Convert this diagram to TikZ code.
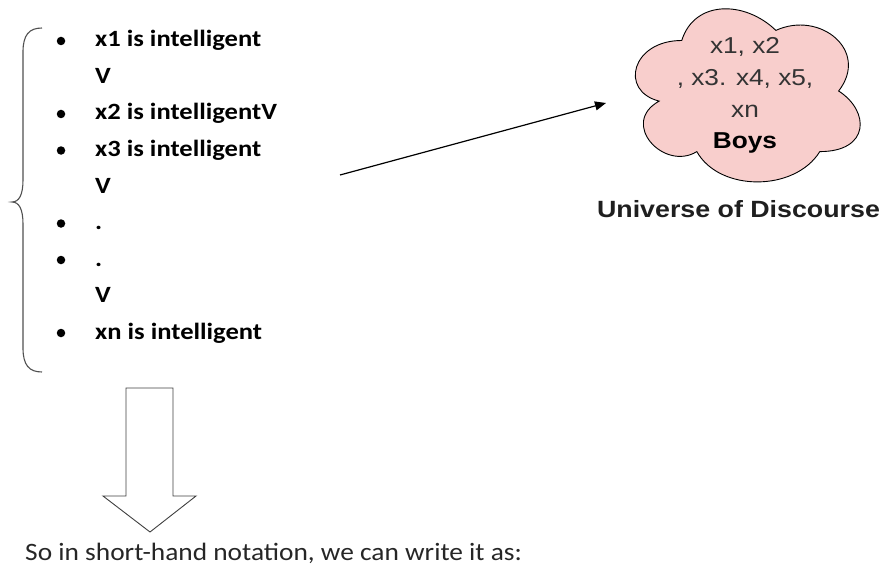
\documentclass[tikz,border=0pt]{standalone}
\usepackage{fontspec}
\setmainfont{Carlito}
\newfontfamily\arialfont{Liberation Sans}
\usetikzlibrary{arrows.meta}
\definecolor{cloudfill}{HTML}{F8CECC}
\definecolor{cloudline}{HTML}{B85450}
\definecolor{bracegray}{HTML}{505050}
\definecolor{cloudtext}{HTML}{333333}
\newcommand{\wide}[1]{\scalebox{1.14}[1]{#1}}
\tikzset{
  item/.style={anchor=base west, inner sep=0pt, font=\fontsize{23.3}{27}\selectfont\bfseries},
  dotmark/.style={circle, fill=black, inner sep=0pt, minimum size=8.5pt},
  cloudline/.style={anchor=base, inner sep=0pt, text=cloudtext, font=\arialfont\fontsize{23}{27}\selectfont},
}
\begin{document}
\begin{tikzpicture}[x=1pt, y=-1pt]
\useasboundingbox (0,0) rectangle (883,567);

% curly brace grouping the list
\draw[bracegray, line width=1.1pt]
  (42,28) .. controls (29,28) and (23,35) .. (23,52) -- (23,180)
  .. controls (23,195) and (19,202) .. (12,202)
  .. controls (19,202) and (23,209) .. (23,224) -- (23,348)
  .. controls (23,365) and (29,372) .. (42,372);

% list items
\foreach \b/\t/\m [count=\i] in {
  47/x1 is intelligent/1, 83.5/V/0, 120/x2 is intelligentV/1,
  156.5/x3 is intelligent/1, 193/V/0, 229.5/./1, 266/./1,
  302.5/V/0, 339/xn is intelligent/1}{
  \node[item] (t\i) at (95,\b) {\wide{\t}};
  \ifnum\m=1 \node[dotmark] (b\i) at (61,\b-6) {}; \fi
}

% universe of discourse cloud
\coordinate (cloud) at (748,96);
\draw[cloudline, fill=cloudfill, line width=0.9pt, shift={(619,-10)}]
  (0.25*251,0.25*202)
  .. controls (0.05*251,0.25*202) and (0,0.5*202) .. (0.16*251,0.55*202)
  .. controls (0,0.66*202) and (0.18*251,0.9*202) .. (0.31*251,0.8*202)
  .. controls (0.4*251,202) and (0.7*251,202) .. (0.8*251,0.8*202)
  .. controls (251,0.8*202) and (251,0.6*202) .. (0.875*251,0.5*202)
  .. controls (251,0.3*202) and (0.8*251,0.1*202) .. (0.625*251,0.2*202)
  .. controls (0.5*251,0.05*202) and (0.3*251,0.05*202) .. (0.25*251,0.25*202)
  -- cycle;
\node[cloudline] (c1) at (745,54) {\wide{x1, x2}};
\node[cloudline] (c2) at (745,86) {\wide{, x3. x4, x5,}};
\node[cloudline] (c3) at (745,118) {\wide{xn}};
\node[cloudline, text=black, font=\arialfont\fontsize{23}{27}\selectfont\bfseries] (c4) at (745,149) {\wide{Boys}};
\node[anchor=base, inner sep=0pt, text=black!88, font=\arialfont\fontsize{23.5}{27}\selectfont\bfseries] (uod) at (738.5,217) {\wide{Universe of Discourse}};

% arrow from the list to the cloud
\coordinate (from) at (340,175);
\coordinate (to) at (606,103);
\draw[line width=1.2pt, -{Triangle[length=11pt, width=9pt]}] (from) -- (to);

% hollow block arrow pointing down
\draw[black!75, line width=0.9pt, fill=white]
  (126,388) -- (173,388) -- (173,496) -- (196,496) -- (150,532)
  -- (103,496) -- (126,496) -- cycle;
\coordinate (down) at (150,532);

% closing sentence
\node[anchor=base west, inner sep=0pt, text=black!85, font=\fontsize{25}{29}\selectfont] (note) at (25,560)
  {\scalebox{1.095}[1]{So in short-hand notation, we can write it as:}};
\end{tikzpicture}
\end{document}
